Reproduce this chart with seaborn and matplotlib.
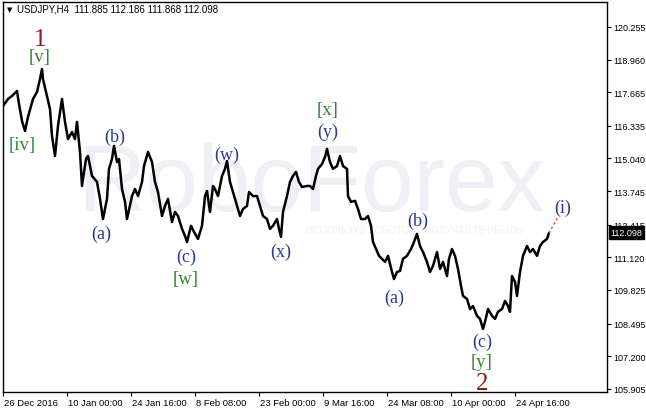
import matplotlib
matplotlib.use("Agg")
import matplotlib.pyplot as plt
import matplotlib.transforms as mtransforms
import seaborn as sns
import pandas as pd

# H4 bar number (one bar per pixel) and price
bars = [0, 5, 9, 14, 16, 19, 22, 25, 30, 34, 37, 39, 40, 44, 47, 49, 52, 55, 59, 62,
        65, 69, 72, 74, 77, 79, 83, 85, 89, 94, 97, 100,
        104, 106, 109, 111, 114, 116, 119, 122, 124, 129, 132, 135, 139, 141, 145, 149,
        152, 155, 159, 162, 165, 169, 172, 175, 179, 182, 184, 188, 191, 195, 199, 202,
        204, 207, 210,
        212, 215, 219, 222, 224, 227, 230, 234, 237, 240, 244, 246, 250, 254, 257, 260,
        264, 267, 270, 274, 276, 278, 280, 284, 287, 290, 293, 296, 299, 304, 307, 310,
        313, 315, 319, 322, 324,
        327, 330, 334, 337, 340, 344, 345, 348, 352, 355, 358, 362, 365, 368, 370, 373,
        376, 379, 382, 385, 389, 391, 394, 397, 400, 404, 408, 411, 414, 417, 420, 424,
        427, 430, 434, 437, 440, 444, 446, 449, 452, 455, 458, 460, 464, 467, 470, 474,
        477, 480, 482, 485, 489, 492, 495, 499, 502, 505, 507, 509, 512, 514, 517, 520,
        524, 527, 530, 534, 537, 540, 544, 546]
prices = [117.12, 117.40, 117.52, 117.72, 117.20, 116.53, 116.13, 116.69, 117.40, 117.68,
          118.19, 118.59, 118.19, 117.52, 117.00, 115.93, 115.14, 116.33, 117.40, 116.49,
          115.81, 116.09, 115.81, 116.49, 115.30, 113.95, 115.02, 115.14, 114.35, 114.11,
          113.44, 112.64,
          113.44, 114.63, 115.02, 115.54, 114.90, 115.02, 113.83, 113.32, 112.64, 113.55,
          113.83, 113.55, 114.11, 114.74, 115.30, 114.90, 114.11, 113.71, 112.76, 113.16,
          113.44, 112.52, 112.92, 112.76, 112.25, 111.97, 111.73, 112.37, 112.13, 111.85,
          112.37, 113.55, 113.75, 112.92, 113.95,
          113.83, 113.55, 114.35, 114.63, 114.94, 114.11, 113.71, 113.16, 112.76, 113.04,
          113.16, 113.71, 113.55, 113.55, 113.16, 112.76, 112.64, 112.25, 112.37, 112.64,
          112.25, 111.93, 112.92, 113.55, 114.11, 114.35, 114.51, 114.11, 113.91, 113.95,
          113.95, 113.83, 114.35, 114.63, 114.82, 115.10, 115.42,
          114.90, 114.63, 114.74, 115.14, 114.74, 114.63, 113.55, 113.32, 113.36, 113.04,
          112.64, 112.64, 112.76, 112.37, 111.73, 111.45, 111.18, 111.06, 110.94, 111.18,
          110.54, 110.26, 110.54, 110.58, 111.06, 111.18, 111.45, 111.73, 112.05, 111.57,
          111.33, 110.94, 110.54, 110.78, 111.33, 110.66, 110.94, 110.38, 111.06, 111.45,
          111.18, 110.66, 109.99, 109.59, 109.47, 109.07, 109.19, 108.80, 108.68, 108.28,
          108.56, 109.07, 108.80, 108.68, 108.96, 109.07, 109.39, 109.19, 108.96, 110.38,
          110.14, 109.59, 110.54, 111.18, 111.57, 111.33, 111.45, 111.18, 111.57, 111.73,
          111.85, 112.09]

# projected move (red dotted)
proj_bars = [546, 555]
proj_prices = [112.09, 112.72]

tick_bars = [0, 64, 128, 192, 256, 320, 384, 448, 512]
tick_dates = ["26 Dec 2016", "10 Jan 00:00", "24 Jan 16:00", "8 Feb 08:00",
              "23 Feb 00:00", "9 Mar 16:00", "24 Mar 08:00", "10 Apr 00:00",
              "24 Apr 16:00"]
price_ticks = [120.255, 118.960, 117.665, 116.335, 115.040, 113.745, 112.415,
               111.120, 109.825, 108.495, 107.200, 105.905]
last_price = 112.098

# wave labels: text, bar, price, kind
wave_text = ["1", "[v]", "[iv]", "(b)", "(a)", "(w)", "(c)", "[w]", "(x)", "[x]",
             "(y)", "(b)", "(a)", "(c)", "[y]", "2", "(i)"]
wave_bar = [37, 37, 19, 112, 98, 224, 183, 183, 278, 325, 325, 415, 391, 479, 479, 479, 560]
wave_price = [119.78, 119.07, 115.58, 115.93, 112.09, 115.22, 111.14, 110.30, 111.37,
              117.00, 116.13, 112.60, 109.55, 107.80, 106.97, 106.14, 113.12]
wave_kind = ["major", "minor", "minor", "minute", "minute", "minute", "minute", "minor",
             "minute", "minor", "minute", "minute", "minute", "minute", "minor", "major",
             "minute"]

sns.set_style("white")
plt.rcParams['font.family'] = ['Liberation Sans', 'DejaVu Sans']

W, H = 646, 414
fig = plt.figure(figsize=(W / 100, H / 100), dpi=100)
ax = fig.add_axes([3 / W, 21 / H, 604 / W, 390 / H])

# watermark
ax.text(0.51, 0.53, "RoboForex", transform=ax.transAxes, ha="center", va="center",
        fontsize=68, color="#eef0f5", zorder=0)
ax.text(0.68, 0.415, "ИСПОЛЬЗУЙ РОБОТОВ - ПОЛУЧАЙ ПРИБЫЛЬ", transform=ax.transAxes,
        ha="center", va="center", fontsize=7, color="#f1f2f6", zorder=0)

df = pd.DataFrame({"bar": bars, "price": prices})
sns.lineplot(data=df, x="bar", y="price", ax=ax, color="black", linewidth=1.8,
             estimator=None, sort=False, zorder=3)
ax.plot(proj_bars, proj_prices, color="#e8304a", linestyle=(0, (1.5, 2)),
        linewidth=1, zorder=3)

colors = {"major": "#8b1a1a", "minor": "#2f8a2a", "minute": "#2b3990"}
sizes = {"major": 18, "minor": 13.5, "minute": 13}
for t, b, p, k in zip(wave_text, wave_bar, wave_price, wave_kind):
    ax.text(b, p, t, ha="center", va="center", fontsize=sizes[k], color=colors[k],
            family="Liberation Serif", zorder=4)

ax.set_xlim(0, 604)
ax.set_ylim(105.78, 121.246)
ax.set_xlabel("")
ax.set_ylabel("")

ax.yaxis.tick_right()
ax.set_yticks(price_ticks)
ax.set_yticklabels([f"{v:.3f}" for v in price_ticks], fontsize=6.5)
ax.set_xticks(tick_bars)
ax.set_xticklabels(tick_dates, fontsize=6.8)
ax.tick_params(axis="both", direction="out", length=3, width=0.8, colors="black", pad=1.5)
ax.tick_params(axis="y", left=False, right=True)
ax.tick_params(axis="x", bottom=True)
offset = mtransforms.ScaledTranslation(1 / 72, 0, fig.dpi_scale_trans)
for lbl in ax.get_xticklabels():
    lbl.set_horizontalalignment("left")
    lbl.set_transform(lbl.get_transform() + offset)

for s in ax.spines.values():
    s.set_visible(True)
    s.set_color("black")
    s.set_linewidth(1)

# current price box
ax.annotate(f"{last_price:.3f}", xy=(1.0, last_price),
            xycoords=("axes fraction", "data"), xytext=(2.5, 0),
            textcoords="offset points", ha="left", va="center", fontsize=6.5,
            color="white",
            bbox=dict(boxstyle="square,pad=0.2", fc="black", ec="black"), zorder=5)

# header
fig.text(7 / W, 1 - 10 / H, "▼", fontsize=5, va="center", ha="left", color="black",
         family="DejaVu Sans")
fig.text(17 / W, 1 - 10 / H, "USDJPY,H4  111.885 112.186 111.868 112.098",
         fontsize=7, va="center", ha="left", color="black")

fig.savefig("out.png", dpi=100)
